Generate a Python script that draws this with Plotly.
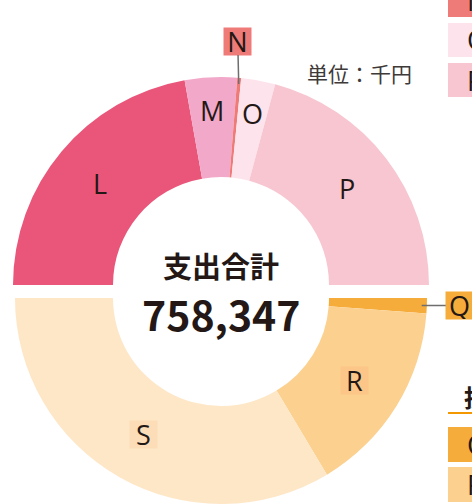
import math
import plotly.graph_objects as go

# ---------------- data ----------------
top_labels = ["L", "M", "N", "O", "P"]
top_values = [44.4, 8.1, 0.6, 5.3, 41.6]          # share of upper half (%)
bottom_labels = ["Q", "R", "S"]
bottom_values = [2.4, 30.4, 67.2]                 # share of lower half (%)
total_title = "支出合計"
total_value = 758347
unit_text = "単位：千円"
legend_top_labels = ["N", "O", "P"]
legend_bottom_title = "投資"
legend_bottom_labels = ["Q", "R"]

# ---------------- style ----------------
top_colors = ["#EA557A", "#F2A8C9", "#EF7B78", "#FCE3EC", "#F7C6D1"]
bottom_colors = ["#F5AC3B", "#FCD08F", "#FEE7C7"]
color_of = dict(zip(top_labels + bottom_labels, top_colors + bottom_colors))
box_colors = {"R": "#FBC687", "S": "#FCDDB8"}
label_radius = {"L": 0.76, "M": 0.84, "O": 0.84, "P": 0.76, "R": 0.76, "S": 0.76}
TXT = "#231815"

W, H = 472, 504
CX = 221
TOP_CY, TOP_R = 285, 208
BOT_CY, BOT_R = 298, 206
INNER_R = 108
BOX = 27


def px(x):
    return x / W


def py(y):
    return 1 - y / H


fig = go.Figure()

fig.add_trace(go.Pie(
    labels=top_labels + ["_"], values=top_values + [sum(top_values)],
    marker=dict(colors=top_colors + ["rgba(0,0,0,0)"], line=dict(width=0)),
    hole=INNER_R / TOP_R, sort=False, direction="clockwise", rotation=-90,
    textinfo="none", hoverinfo="label+value", showlegend=False,
    domain=dict(x=[px(CX - TOP_R), px(CX + TOP_R)],
                y=[py(TOP_CY + TOP_R), py(TOP_CY - TOP_R)]),
))
fig.add_trace(go.Pie(
    labels=bottom_labels + ["__"], values=bottom_values + [sum(bottom_values)],
    marker=dict(colors=bottom_colors + ["rgba(0,0,0,0)"], line=dict(width=0)),
    hole=INNER_R / BOT_R, sort=False, direction="clockwise", rotation=90,
    textinfo="none", hoverinfo="label+value", showlegend=False,
    domain=dict(x=[px(CX - BOT_R), px(CX + BOT_R)],
                y=[py(BOT_CY + BOT_R), py(BOT_CY - BOT_R)]),
))

annotations = []
letter_font = dict(family="Open Sans", size=27, color=TXT)
ANN = dict(xref="paper", yref="paper", xanchor="center", yanchor="middle")


def mid_points(labels, values, upper):
    tot = sum(values)
    cum = 0
    out = {}
    for lab, v in zip(labels, values):
        f = (cum + v / 2) / tot
        cum += v
        deg = 180 * f
        if upper:
            th = math.radians(180 - deg)
            out[lab] = (math.cos(th), -math.sin(th))
        else:
            th = math.radians(deg)
            out[lab] = (math.cos(th), math.sin(th))
    return out


top_mid = mid_points(top_labels, top_values, True)
bot_mid = mid_points(bottom_labels, bottom_values, False)

for lab in top_labels:
    ux, uy = top_mid[lab]
    if lab == "N":
        hx, hy = CX + ux * TOP_R * 0.97, TOP_CY + uy * TOP_R * 0.97
        annotations.append(dict(ANN, x=px(hx), y=py(hy), text=lab, font=letter_font,
                                showarrow=True, arrowhead=0, arrowwidth=1.5,
                                arrowcolor="#6e6e6e", ax=-1, ay=-43,
                                bgcolor=color_of[lab], borderpad=0,
                                width=BOX, height=BOX))
    else:
        rr = label_radius[lab] * TOP_R
        annotations.append(dict(ANN, x=px(CX + ux * rr), y=py(TOP_CY + uy * rr),
                                text=lab, font=letter_font, showarrow=False))

for lab in bottom_labels:
    ux, uy = bot_mid[lab]
    if lab == "Q":
        hx, hy = CX + ux * BOT_R * 0.975, BOT_CY + uy * BOT_R * 0.975
        annotations.append(dict(ANN, x=px(hx), y=py(hy), text=lab, font=letter_font,
                                showarrow=True, arrowhead=0, arrowwidth=1.5,
                                arrowcolor="#6e6e6e", ax=38, ay=0,
                                bgcolor=color_of[lab], borderpad=0,
                                width=BOX, height=BOX))
    else:
        rr = label_radius[lab] * BOT_R
        annotations.append(dict(ANN, x=px(CX + ux * rr), y=py(BOT_CY + uy * rr),
                                text=lab, font=letter_font, showarrow=False,
                                bgcolor=box_colors[lab], borderpad=0,
                                width=BOX, height=BOX))

# centre text
annotations.append(dict(ANN, x=px(CX), y=py(265), text=total_title, showarrow=False,
                        font=dict(family="Noto Sans CJK JP", size=29, color=TXT, weight=700)))
annotations.append(dict(ANN, x=px(CX), y=py(313), text=f"{total_value:,}", showarrow=False,
                        font=dict(family="Noto Sans CJK JP", size=41, color=TXT, weight=700)))
# unit
annotations.append(dict(ANN, x=px(359), y=py(73), text=unit_text, showarrow=False,
                        font=dict(family="Noto Sans CJK JP", size=21, color="#3e3a39")))

shapes = []
# partial legends at right edge
LX0 = 448
for i, lab in enumerate(legend_top_labels):
    y0 = -17 + i * 40
    shapes.append(dict(type="rect", xref="paper", yref="paper",
                       x0=px(LX0), x1=px(LX0 + 60), y0=py(y0 + 34), y1=py(y0),
                       fillcolor=color_of[lab], line=dict(width=0), layer="below"))
    annotations.append(dict(ANN, x=px(465), y=py(y0 + 17), xanchor="left",
                            text=lab, showarrow=False, font=letter_font))

annotations.append(dict(ANN, x=px(462), y=py(396), xanchor="left",
                        text=legend_bottom_title, showarrow=False,
                        font=dict(family="Noto Sans CJK JP", size=24, color=TXT, weight=700)))
shapes.append(dict(type="line", xref="paper", yref="paper",
                   x0=px(LX0), x1=px(LX0 + 60), y0=py(413), y1=py(413),
                   line=dict(color="#F39800", width=2)))
for i, lab in enumerate(legend_bottom_labels):
    y0 = 427 + i * 40
    shapes.append(dict(type="rect", xref="paper", yref="paper",
                       x0=px(LX0), x1=px(LX0 + 60), y0=py(y0 + 35), y1=py(y0),
                       fillcolor=color_of[lab], line=dict(width=0), layer="below"))
    annotations.append(dict(ANN, x=px(465), y=py(y0 + 17), xanchor="left",
                            text=lab, showarrow=False, font=letter_font))

fig.update_layout(width=W, height=H, margin=dict(l=0, r=0, t=0, b=0),
                  paper_bgcolor="white", plot_bgcolor="white",
                  annotations=annotations, shapes=shapes, showlegend=False)

fig.write_html("out.html", config={"displayModeBar": False},
               post_script="document.body.style.margin='0px';document.body.style.overflow='hidden';")
